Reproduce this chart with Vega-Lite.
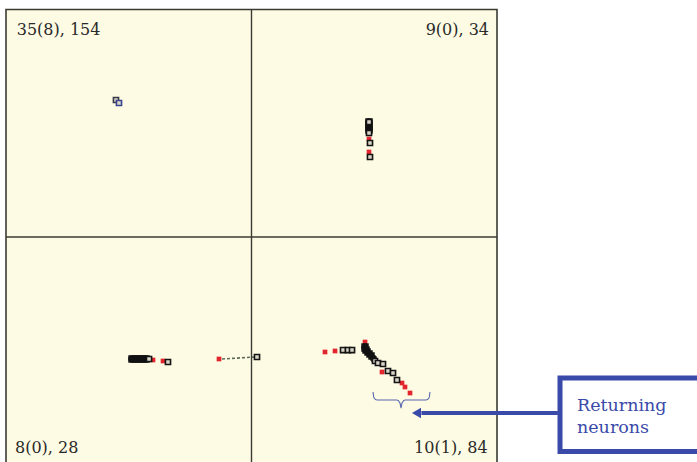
{
  "$schema": "https://vega.github.io/schema/vega-lite/v6.json",
  "width": 697,
  "height": 462,
  "padding": 0,
  "autosize": {"type": "none"},
  "background": "white",
  "config": {"view": {"stroke": null}},
  "datasets": {
    "panel": [{"x": 0, "x2": 100, "y": 0, "y2": 100}],
    "midlines": [
      {"x": 50, "x2": 50, "y": 0, "y2": 100},
      {"x": 0, "x2": 100, "y": 50, "y2": 50}
    ],
    "blobs": [
      {"x": 73.73, "y": 75.49}, {"x": 74.13, "y": 75.49},
      {"x": 73.73, "y": 75.05}, {"x": 74.13, "y": 75.05},
      {"x": 73.73, "y": 74.62}, {"x": 74.13, "y": 74.62},
      {"x": 73.73, "y": 74.18}, {"x": 74.13, "y": 74.18},
      {"x": 73.73, "y": 73.74}, {"x": 74.13, "y": 73.74},
      {"x": 73.73, "y": 73.30}, {"x": 74.13, "y": 73.30},
      {"x": 25.46, "y": 23.41}, {"x": 25.46, "y": 22.97},
      {"x": 25.87, "y": 23.41}, {"x": 25.87, "y": 22.97},
      {"x": 26.27, "y": 23.41}, {"x": 26.27, "y": 22.97},
      {"x": 26.68, "y": 23.41}, {"x": 26.68, "y": 22.97},
      {"x": 27.09, "y": 23.41}, {"x": 27.09, "y": 22.97},
      {"x": 27.49, "y": 23.41}, {"x": 27.49, "y": 22.97},
      {"x": 27.90, "y": 23.41}, {"x": 27.90, "y": 22.97},
      {"x": 28.31, "y": 23.41}, {"x": 28.31, "y": 22.97},
      {"x": 28.72, "y": 23.41}, {"x": 28.72, "y": 22.97},
      {"x": 72.91, "y": 26.04}, {"x": 73.32, "y": 26.04},
      {"x": 72.91, "y": 25.38}, {"x": 73.52, "y": 25.38},
      {"x": 73.12, "y": 24.95}, {"x": 73.73, "y": 24.95},
      {"x": 73.52, "y": 24.51}, {"x": 74.13, "y": 24.51},
      {"x": 73.93, "y": 24.07}, {"x": 74.54, "y": 24.07},
      {"x": 74.34, "y": 23.63}, {"x": 74.75, "y": 23.41},
      {"x": 74.95, "y": 23.19}
    ],
    "squares": [
      {"x": 22.40, "y": 80.11, "kind": "dark"},
      {"x": 23.01, "y": 79.45, "kind": "blue"},
      {"x": 73.93, "y": 75.27, "kind": "black"},
      {"x": 73.93, "y": 72.86, "kind": "black"},
      {"x": 74.13, "y": 70.66, "kind": "black"},
      {"x": 74.13, "y": 67.58, "kind": "black"},
      {"x": 29.13, "y": 23.19, "kind": "black"},
      {"x": 32.99, "y": 22.53, "kind": "black"},
      {"x": 51.12, "y": 23.63, "kind": "black"},
      {"x": 68.64, "y": 25.16, "kind": "black"},
      {"x": 69.65, "y": 25.16, "kind": "black"},
      {"x": 70.47, "y": 25.16, "kind": "black"},
      {"x": 75.15, "y": 22.75, "kind": "black"},
      {"x": 75.76, "y": 22.31, "kind": "black"},
      {"x": 76.78, "y": 22.09, "kind": "black"},
      {"x": 77.80, "y": 20.55, "kind": "black"},
      {"x": 78.82, "y": 20.11, "kind": "black"},
      {"x": 79.63, "y": 18.57, "kind": "black"}
    ],
    "reds": [
      {"x": 73.93, "y": 73.08},
      {"x": 73.93, "y": 71.54},
      {"x": 73.93, "y": 68.68},
      {"x": 29.94, "y": 22.97},
      {"x": 31.98, "y": 22.75},
      {"x": 43.38, "y": 23.19},
      {"x": 64.97, "y": 24.73},
      {"x": 67.01, "y": 24.95},
      {"x": 73.12, "y": 26.92},
      {"x": 74.95, "y": 22.97},
      {"x": 76.58, "y": 20.33},
      {"x": 80.65, "y": 17.91},
      {"x": 81.26, "y": 17.03},
      {"x": 82.28, "y": 15.71}
    ],
    "dash": [
      {"x": 43.99, "y": 23.19, "o": 1},
      {"x": 50.71, "y": 23.63, "o": 2}
    ],
    "brace": [
      {"x": 74.75, "y": 15.93, "o": 1},
      {"x": 74.95, "y": 14.62, "o": 2},
      {"x": 75.56, "y": 14.18, "o": 3},
      {"x": 79.63, "y": 14.18, "o": 4},
      {"x": 80.24, "y": 13.52, "o": 5},
      {"x": 80.45, "y": 12.42, "o": 6},
      {"x": 80.65, "y": 13.52, "o": 7},
      {"x": 81.26, "y": 14.18, "o": 8},
      {"x": 85.54, "y": 14.18, "o": 9},
      {"x": 86.15, "y": 14.62, "o": 10},
      {"x": 86.35, "y": 15.93, "o": 11}
    ],
    "arrow": [{"x": 112.4, "x2": 84.6, "y": 11.32}],
    "arrowhead": [{"x": 83.6, "y": 11.32}],
    "box": [{"x": 112.83, "x2": 150, "y": 2.86, "y2": 19.01}],
    "labelsLeft": [
      {"x": 2.18, "y": 94.4, "t": "35(8), 154"},
      {"x": 1.83, "y": 2.45, "t": "8(0), 28"}
    ],
    "labelsRight": [
      {"x": 98.37, "y": 94.4, "t": "9(0), 34"},
      {"x": 98.1, "y": 2.45, "t": "10(1), 84"}
    ],
    "note": [
      {"x": 116.29, "y": 11.82, "t": "Returning"},
      {"x": 116.29, "y": 6.86, "t": "neurons"}
    ]
  },
  "layer": [
    {
      "data": {"name": "panel"},
      "mark": {"type": "rect", "fill": "#FDFBE3", "stroke": "#3b3b33", "strokeWidth": 1.6},
      "encoding": {
        "x": {"field": "x", "type": "quantitative", "scale": {"domain": [-1.222, 140.73], "nice": false, "zero": false}, "axis": null},
        "x2": {"field": "x2"},
        "y": {"field": "y", "type": "quantitative", "scale": {"domain": [0.55, 102.09], "nice": false, "zero": false}, "axis": null},
        "y2": {"field": "y2"}
      }
    },
    {
      "data": {"name": "midlines"},
      "mark": {"type": "rule", "color": "#3b3b33", "strokeWidth": 1.4},
      "encoding": {
        "x": {"field": "x", "type": "quantitative", "scale": {"domain": [-1.222, 140.73], "nice": false, "zero": false}, "axis": null},
        "x2": {"field": "x2"},
        "y": {"field": "y", "type": "quantitative", "scale": {"domain": [0.55, 102.09], "nice": false, "zero": false}, "axis": null},
        "y2": {"field": "y2"}
      }
    },
    {
      "data": {"name": "dash"},
      "mark": {"type": "line", "color": "#5d6b5a", "strokeWidth": 1.6, "strokeDash": [3, 2]},
      "encoding": {
        "x": {"field": "x", "type": "quantitative", "scale": {"domain": [-1.222, 140.73], "nice": false, "zero": false}, "axis": null},
        "y": {"field": "y", "type": "quantitative", "scale": {"domain": [0.55, 102.09], "nice": false, "zero": false}, "axis": null},
        "order": {"field": "o"}
      }
    },
    {
      "data": {"name": "reds"},
      "mark": {"type": "square", "color": "#E3262E", "size": 22, "opacity": 1},
      "encoding": {
        "x": {"field": "x", "type": "quantitative", "scale": {"domain": [-1.222, 140.73], "nice": false, "zero": false}, "axis": null},
        "y": {"field": "y", "type": "quantitative", "scale": {"domain": [0.55, 102.09], "nice": false, "zero": false}, "axis": null}
      }
    },
    {
      "data": {"name": "blobs"},
      "mark": {"type": "square", "color": "#111111", "size": 30, "opacity": 1},
      "encoding": {
        "x": {"field": "x", "type": "quantitative", "scale": {"domain": [-1.222, 140.73], "nice": false, "zero": false}, "axis": null},
        "y": {"field": "y", "type": "quantitative", "scale": {"domain": [0.55, 102.09], "nice": false, "zero": false}, "axis": null}
      }
    },
    {
      "data": {"name": "squares"},
      "mark": {"type": "point", "shape": "square", "filled": false, "size": 26, "strokeWidth": 1.6, "opacity": 1, "fill": "#d9d6c8", "fillOpacity": 1},
      "encoding": {
        "x": {"field": "x", "type": "quantitative", "scale": {"domain": [-1.222, 140.73], "nice": false, "zero": false}, "axis": null},
        "y": {"field": "y", "type": "quantitative", "scale": {"domain": [0.55, 102.09], "nice": false, "zero": false}, "axis": null},
        "stroke": {"field": "kind", "type": "nominal", "scale": {"domain": ["black", "dark", "blue"], "range": ["#141414", "#3a3a4a", "#3b4590"]}, "legend": null}
      }
    },
    {
      "data": {"name": "brace"},
      "mark": {"type": "line", "color": "#5767ae", "strokeWidth": 1.1, "interpolate": "monotone"},
      "encoding": {
        "x": {"field": "x", "type": "quantitative", "scale": {"domain": [-1.222, 140.73], "nice": false, "zero": false}, "axis": null},
        "y": {"field": "y", "type": "quantitative", "scale": {"domain": [0.55, 102.09], "nice": false, "zero": false}, "axis": null},
        "order": {"field": "o"}
      }
    },
    {
      "data": {"name": "box"},
      "mark": {"type": "rect", "fill": "white", "stroke": "#3a4aa8", "strokeWidth": 5},
      "encoding": {
        "x": {"field": "x", "type": "quantitative", "scale": {"domain": [-1.222, 140.73], "nice": false, "zero": false}, "axis": null},
        "x2": {"field": "x2"},
        "y": {"field": "y", "type": "quantitative", "scale": {"domain": [0.55, 102.09], "nice": false, "zero": false}, "axis": null},
        "y2": {"field": "y2"}
      }
    },
    {
      "data": {"name": "arrow"},
      "mark": {"type": "rule", "color": "#3a4aa8", "strokeWidth": 4},
      "encoding": {
        "x": {"field": "x", "type": "quantitative", "scale": {"domain": [-1.222, 140.73], "nice": false, "zero": false}, "axis": null},
        "x2": {"field": "x2"},
        "y": {"field": "y", "type": "quantitative", "scale": {"domain": [0.55, 102.09], "nice": false, "zero": false}, "axis": null}
      }
    },
    {
      "data": {"name": "arrowhead"},
      "mark": {"type": "point", "shape": "triangle-left", "filled": true, "color": "#3a4aa8", "size": 110, "opacity": 1},
      "encoding": {
        "x": {"field": "x", "type": "quantitative", "scale": {"domain": [-1.222, 140.73], "nice": false, "zero": false}, "axis": null},
        "y": {"field": "y", "type": "quantitative", "scale": {"domain": [0.55, 102.09], "nice": false, "zero": false}, "axis": null}
      }
    },
    {
      "data": {"name": "labelsLeft"},
      "mark": {"type": "text", "align": "left", "baseline": "alphabetic", "font": "DejaVu Serif", "fontSize": 16, "color": "#2a2a2a"},
      "encoding": {
        "x": {"field": "x", "type": "quantitative", "scale": {"domain": [-1.222, 140.73], "nice": false, "zero": false}, "axis": null},
        "y": {"field": "y", "type": "quantitative", "scale": {"domain": [0.55, 102.09], "nice": false, "zero": false}, "axis": null},
        "text": {"field": "t"}
      }
    },
    {
      "data": {"name": "labelsRight"},
      "mark": {"type": "text", "align": "right", "baseline": "alphabetic", "font": "DejaVu Serif", "fontSize": 16, "color": "#2a2a2a"},
      "encoding": {
        "x": {"field": "x", "type": "quantitative", "scale": {"domain": [-1.222, 140.73], "nice": false, "zero": false}, "axis": null},
        "y": {"field": "y", "type": "quantitative", "scale": {"domain": [0.55, 102.09], "nice": false, "zero": false}, "axis": null},
        "text": {"field": "t"}
      }
    },
    {
      "data": {"name": "note"},
      "mark": {"type": "text", "align": "left", "baseline": "alphabetic", "font": "DejaVu Serif", "fontSize": 17.5, "color": "#3a4aa8"},
      "encoding": {
        "x": {"field": "x", "type": "quantitative", "scale": {"domain": [-1.222, 140.73], "nice": false, "zero": false}, "axis": null},
        "y": {"field": "y", "type": "quantitative", "scale": {"domain": [0.55, 102.09], "nice": false, "zero": false}, "axis": null},
        "text": {"field": "t"}
      }
    }
  ]
}
